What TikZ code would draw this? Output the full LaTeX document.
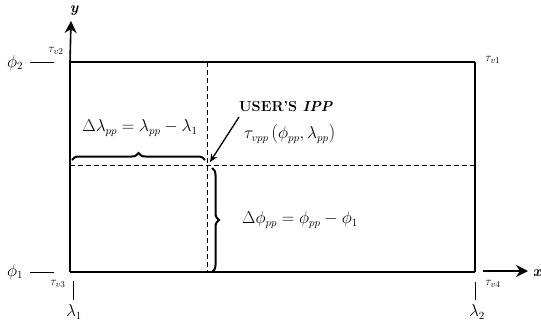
\documentclass[tikz,border=0pt]{standalone}
\usepackage{amsmath}
\usetikzlibrary{decorations.pathreplacing,arrows.meta}
\newcommand{\bigparen}[1]{{\fontsize{19}{19}\selectfont #1}}
\begin{document}
\begin{tikzpicture}[x=1pt,y=-1pt,
  frame/.style={line width=1.8pt},
  guide/.style={dash pattern=on 5pt off 3pt,line width=0.9pt},
  axisarrow/.style={line width=1.6pt,-{Stealth[length=12pt,width=12pt]}},
  tick/.style={line width=0.7pt},
  bracethick/.style={decorate,decoration={brace,amplitude=7pt},line width=2pt},
  lbl/.style={inner sep=1pt,font=\fontsize{16}{18}\selectfont},
  small/.style={inner sep=0.5pt,font=\fontsize{13}{15}\selectfont}]
\useasboundingbox (0,0) rectangle (541,322);
% corners
\coordinate (c2) at (70,62);
\coordinate (c1) at (475,62);
\coordinate (c3) at (70,272);
\coordinate (c4) at (475,272);
\coordinate (pv) at (207,62);
\coordinate (pb) at (207,272);
\coordinate (hl) at (70,165);
\coordinate (hr) at (475,165);
\coordinate (ipp) at (207,165);
% frame
\draw[frame] (c3) -- (c2) -- (c1);
\draw[frame] (c3) -- (c4);
\draw[line width=2.8pt] (c1) -- (c4);
% dashed guides
\draw[guide] (pv) -- (pb);
\draw[guide] (hl) -- (hr);
% axes
\coordinate (ytip) at (71,21);
\draw[axisarrow] (c2) -- (ytip);
\node[inner sep=0pt,font=\fontsize{15}{17}\selectfont\bfseries\itshape] (ylab) at (74,11) {y};
\coordinate (xstart) at (483,271);
\coordinate (xtip) at (528,271);
\draw[axisarrow] (xstart) -- (xtip);
\node[inner sep=0pt,font=\fontsize{15}{17}\selectfont\bfseries\itshape] (xlab) at (537,273) {x};
% left labels
\node[lbl] (phi2) at (15,63) {$\phi_2$};
\coordinate (p2a) at (30,62); \coordinate (p2b) at (54,62);
\draw[tick] (p2a) -- (p2b);
\node[small] (tv2) at (56,51) {$\tau_{v2}$};
\node[lbl] (phi1) at (15,272) {$\phi_1$};
\coordinate (p1a) at (30,272); \coordinate (p1b) at (54,272);
\draw[tick] (p1a) -- (p1b);
\node[small] (tv3) at (58,284) {$\tau_{v3}$};
\coordinate (l1a) at (73,281); \coordinate (l1b) at (73,300);
\draw[tick] (l1a) -- (l1b);
\node[lbl] (lam1) at (74,312) {$\lambda_1$};
% right labels
\node[small] (tv1) at (493,60) {$\tau_{v1}$};
\node[small] (tv4) at (493,284) {$\tau_{v4}$};
\coordinate (l2a) at (475,282); \coordinate (l2b) at (475,300);
\draw[tick] (l2a) -- (l2b);
\node[lbl] (lam2) at (477,312) {$\lambda_2$};
% braces
\coordinate (bh1) at (72,160); \coordinate (bh2) at (205,160);
\draw[bracethick] (bh1) -- (bh2);
\node[lbl] (dlam) at (140,128) {$\Delta\lambda_{pp} = \lambda_{pp} - \lambda_1$};
\coordinate (bv1) at (212,168); \coordinate (bv2) at (212,272);
\draw[bracethick] (bv1) -- (bv2);
\node[lbl,anchor=west] (dphi) at (241,220) {$\Delta\phi_{pp} = \phi_{pp} - \phi_1$};
% IPP
\node[inner sep=0pt,anchor=west,font=\fontsize{14.5}{16}\selectfont\bfseries] (user) at (239,107) {USER'S \textit{IPP}};
\node[inner sep=0pt,anchor=west,font=\fontsize{16}{18}\selectfont] (tvpp) at (244,134) {$\tau_{vpp}$\,\bigparen{(}$\phi_{pp},\lambda_{pp}$\bigparen{)}};
\coordinate (arrstart) at (239,117);
\coordinate (arrend) at (210,162);
\draw[line width=1.3pt,-{Stealth[length=8pt,width=7pt]}] (arrstart) -- (arrend);
\end{tikzpicture}
\end{document}
